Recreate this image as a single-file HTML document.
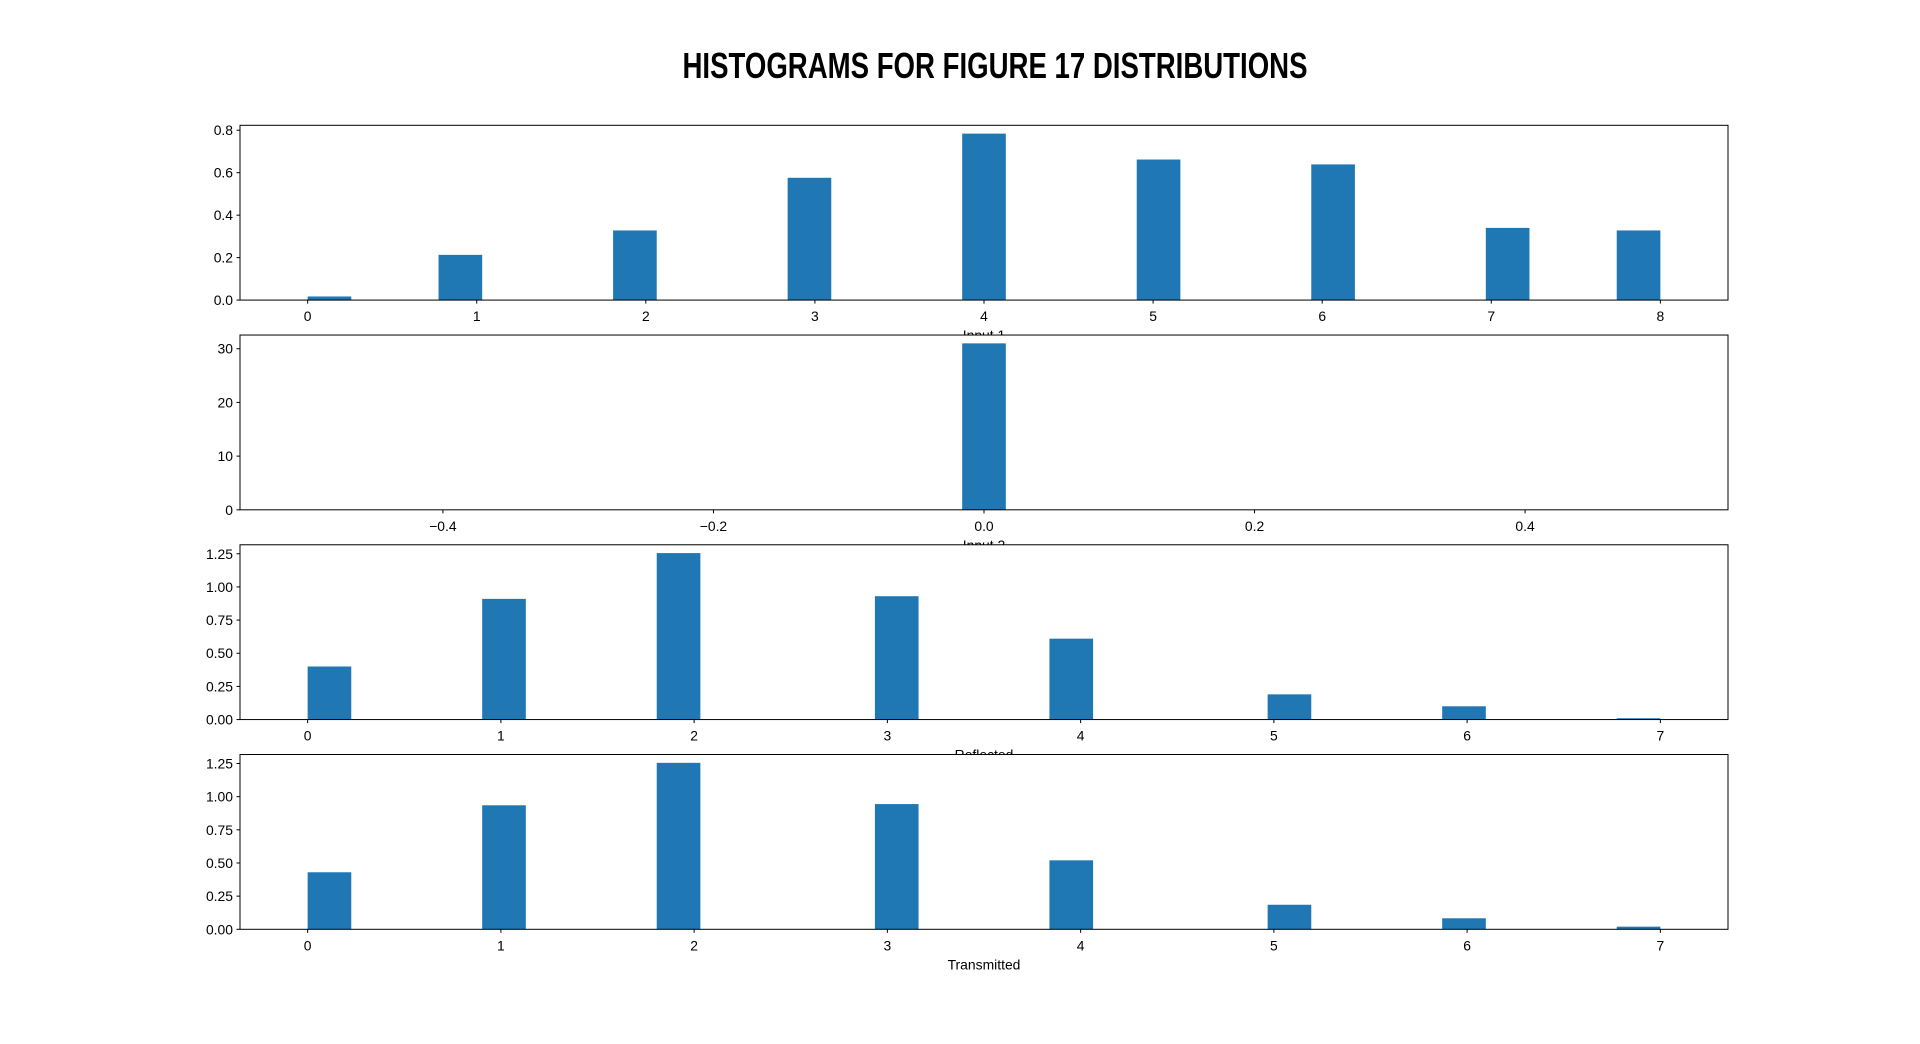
<!DOCTYPE html>
<html><head><meta charset="utf-8"><style>
html,body{margin:0;padding:0;background:#fff;}
svg{display:block;font-family:"Liberation Sans","DejaVu Sans",sans-serif;}
</style></head><body>
<svg id="fig" width="1920" height="1044" viewBox="0 0 1920 1044">
<text x="995" y="78" text-anchor="middle" font-size="36" font-weight="bold" textLength="625" lengthAdjust="spacingAndGlyphs">HISTOGRAMS FOR FIGURE 17 DISTRIBUTIONS</text>
</svg>
<script>
// ---- data ----
const panelLabels = ["Input 1", "Input 2", "Reflected", "Transmitted"];
const panelRanges = [[0, 8], [-0.5, 0.5], [0, 7], [0, 7]];
const binCount = 31;
// bin indices with non-zero density, and their densities
const input1Bins = [0, 3, 7, 11, 15, 19, 23, 27, 30];
const input1Values = [0.017, 0.213, 0.328, 0.576, 0.784, 0.662, 0.639, 0.34, 0.328];
const input2Bins = [15];
const input2Values = [31];
const reflectedBins = [0, 4, 8, 13, 17, 22, 26, 30];
const reflectedValues = [0.40, 0.91, 1.255, 0.93, 0.61, 0.19, 0.10, 0.01];
const transmittedBins = [0, 4, 8, 13, 17, 22, 26, 30];
const transmittedValues = [0.43, 0.935, 1.255, 0.944, 0.52, 0.185, 0.083, 0.02];
const input1XTicks = [0, 1, 2, 3, 4, 5, 6, 7, 8];
const input2XTicks = [-0.4, -0.2, 0.0, 0.2, 0.4];
const outXTicks = [0, 1, 2, 3, 4, 5, 6, 7];
const input1YTicks = [0.0, 0.2, 0.4, 0.6, 0.8];
const input2YTicks = [0, 10, 20, 30];
const outYTicks = [0.00, 0.25, 0.50, 0.75, 1.00, 1.25];

const panels = [
  {bins: input1Bins, vals: input1Values, xt: input1XTicks, yt: input1YTicks, xf: v => String(v), yf: v => v.toFixed(1), key: "input-1"},
  {bins: input2Bins, vals: input2Values, xt: input2XTicks, yt: input2YTicks, xf: v => (v < 0 ? "\u2212" + Math.abs(v).toFixed(1) : v.toFixed(1)), yf: v => String(v), key: "input-2"},
  {bins: reflectedBins, vals: reflectedValues, xt: outXTicks, yt: outYTicks, xf: v => String(v), yf: v => v.toFixed(2), key: "reflected"},
  {bins: transmittedBins, vals: transmittedValues, xt: outXTicks, yt: outYTicks, xf: v => String(v), yf: v => v.toFixed(2), key: "transmitted"}
];

const NS = "http://www.w3.org/2000/svg";
const svg = document.getElementById("fig");
function mk(tag, attrs, parent) {
  const e = document.createElementNS(NS, tag);
  for (const k in attrs) e.setAttribute(k, attrs[k]);
  parent.appendChild(e);
  return e;
}
const L = 240, R = 1728, T = 125.3, B = 929.3;
const axH = (B - T) / (4 + 3 * 0.2), gap = axH * 0.2;

// labels first (so following panels' white background overlaps them)
panels.forEach((p, i) => {
  const bot = T + i * (axH + gap) + axH;
  const xl = mk("text", {x: (L + R) / 2, y: bot + 40, "text-anchor": "middle", "font-size": 13.9}, svg);
  xl.textContent = panelLabels[i];
  
  
});

panels.forEach((p, i) => {
  const top = T + i * (axH + gap), bot = top + axH;
  const [r0, r1] = panelRanges[i];
  const span = r1 - r0;
  const xmin = r0 - 0.05 * span, xmax = r1 + 0.05 * span;
  const x = v => L + (v - xmin) / (xmax - xmin) * (R - L);
  const ymax = Math.max(...p.vals) * 1.05;
  const y = v => bot - v / ymax * axH;
  const bw = span / binCount;
  const g = mk("g", {}, svg);
  
  
  const bg = mk("rect", {x: L, y: top, width: R - L, height: axH, fill: "#fff"}, g);
  
  
  p.bins.forEach((b, j) => {
    const x0 = r0 + b * bw;
    const rect = mk("rect", {x: x(x0), y: y(p.vals[j]), width: x(x0 + bw) - x(x0), height: bot - y(p.vals[j]), fill: "#1f77b4"}, g);
    
    
  });
  const frame = mk("rect", {x: L, y: top, width: R - L, height: axH, fill: "none", stroke: "#000", "stroke-width": 1}, g);
  
  
  p.xt.forEach(v => {
    const px = x(v);
    mk("line", {x1: px, x2: px, y1: bot, y2: bot + 3.5, stroke: "#000", "stroke-width": 1}, g);
    const t = mk("text", {x: px, y: bot + 21, "text-anchor": "middle", "font-size": 13.9}, g);
    t.textContent = p.xf(v);
    
    
  });
  p.yt.forEach(v => {
    const py = y(v);
    mk("line", {x1: L - 3.5, x2: L, y1: py, y2: py, stroke: "#000", "stroke-width": 1}, g);
    const t = mk("text", {x: L - 7, y: py + 5, "text-anchor": "end", "font-size": 13.9}, g);
    t.textContent = p.yf(v);
    
    
  });
});
</script>
</body></html>
